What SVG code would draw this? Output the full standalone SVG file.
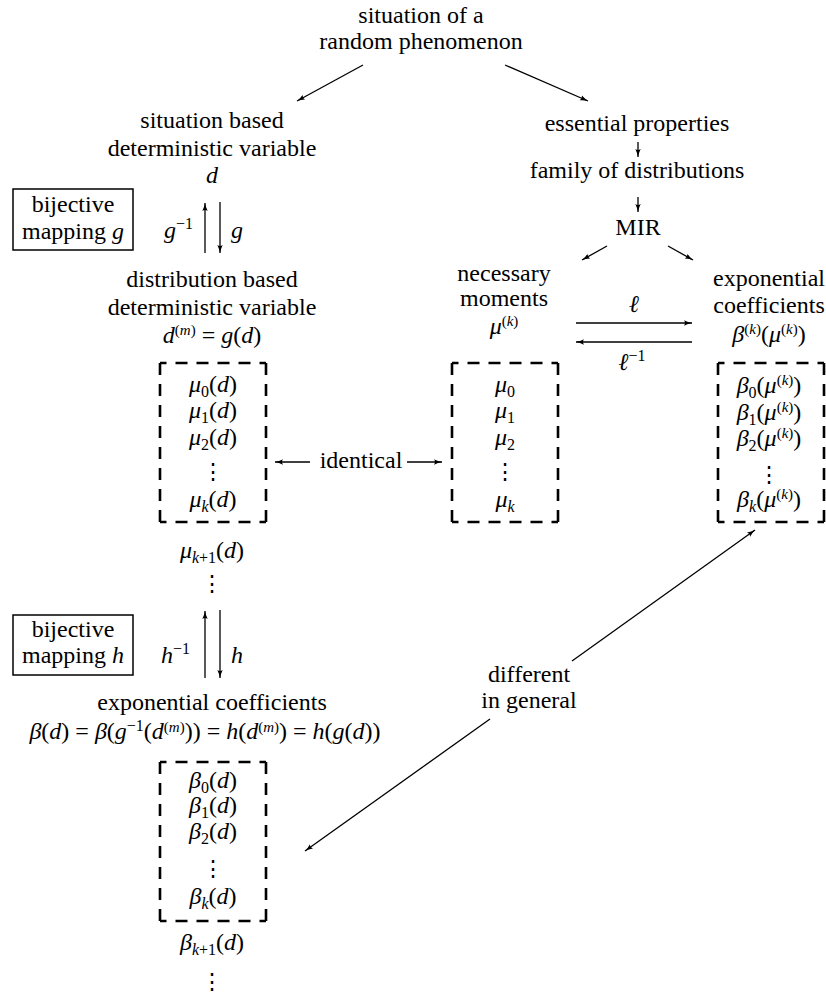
<svg xmlns="http://www.w3.org/2000/svg" width="826" height="994" viewBox="0 0 826 994" font-family="'Liberation Serif', 'Times New Roman', 'DejaVu Serif', serif">
<style>
text { font-family: "Liberation Serif", "Times New Roman", "DejaVu Serif", serif; font-size: 24px; fill: #000; text-anchor: middle; }
.i { font-style: italic; }
.s { font-size: 16px; }
.p { font-size: 15px; }
.st { text-anchor: start; }
.en { text-anchor: end; }
.dots { font-family: "DejaVu Serif", serif; font-size: 22px; }
.c line { stroke: #000; stroke-width: 1.3; marker-end: url(#ah); }
.box { fill: none; stroke: #000; stroke-width: 1.5; }
.dh { stroke: #000; stroke-width: 2.6; stroke-dasharray: 12 9; stroke-dashoffset: 5.5; fill: none; }
.dv { stroke: #000; stroke-width: 2.6; stroke-dasharray: 12 9; fill: none; }
</style>
<defs>
<marker id="ah" viewBox="0 0 8 6" refX="8" refY="3" markerWidth="8" markerHeight="6" markerUnits="userSpaceOnUse" orient="auto">
<path d="M0,0.3 Q4,2.3 8,3 Q4,3.7 0,5.7 Q2,3 0,0.3 z" fill="#000"/>
</marker>
<g id="dbox">
<line class="dh" x1="0" y1="0" x2="106" y2="0"/>
<line class="dh" x1="0" y1="159" x2="106" y2="159"/>
<line class="dv" x1="0" y1="0" x2="0" y2="159"/>
<line class="dv" x1="106" y1="0" x2="106" y2="159"/>
</g>
</defs>

<g id="situation">
<text x="421" y="23">situation of a</text>
<text x="421" y="49">random phenomenon</text>
</g>

<g id="situation-variable">
<text x="212" y="128">situation based</text>
<text x="212" y="156">deterministic variable</text>
<text x="212" y="183" class="i">d</text>
</g>

<g id="bijective-g">
<rect class="box" x="13" y="189" width="120" height="61"/>
<text x="73" y="212">bijective</text>
<text x="73" y="239">mapping <tspan class="i">g</tspan></text>
</g>

<g id="g-labels">
<text x="193" y="238" class="en"><tspan class="i">g</tspan><tspan class="s" dy="-9">−1</tspan></text>
<text x="231" y="238" class="st i">g</text>
</g>

<g id="distribution-variable">
<text x="212" y="287">distribution based</text>
<text x="212" y="315">deterministic variable</text>
<text x="212" y="343"><tspan class="i">d</tspan><tspan class="p" dy="-8">(</tspan><tspan class="p i">m</tspan><tspan class="p">)</tspan><tspan dy="8"> = </tspan><tspan class="i">g</tspan>(<tspan class="i">d</tspan>)</text>
</g>

<g id="moments-d">
<use href="#dbox" x="160" y="363"/>
<text x="213" y="392"><tspan class="i">μ</tspan><tspan class="s" dy="5">0</tspan><tspan dy="-5">(</tspan><tspan class="i">d</tspan>)</text>
<text x="213" y="418"><tspan class="i">μ</tspan><tspan class="s" dy="5">1</tspan><tspan dy="-5">(</tspan><tspan class="i">d</tspan>)</text>
<text x="213" y="445"><tspan class="i">μ</tspan><tspan class="s" dy="5">2</tspan><tspan dy="-5">(</tspan><tspan class="i">d</tspan>)</text>
<text x="213" y="479" class="dots">⋮</text>
<text x="213" y="507"><tspan class="i">μ</tspan><tspan class="s i" dy="5">k</tspan><tspan dy="-5">(</tspan><tspan class="i">d</tspan>)</text>
</g>

<g id="moments-d-more">
<text x="212" y="558"><tspan class="i">μ</tspan><tspan class="s" dy="5"><tspan class="i">k</tspan>+1</tspan><tspan dy="-5">(</tspan><tspan class="i">d</tspan>)</text>
<text x="212" y="591" class="dots">⋮</text>
</g>

<g id="identical">
<text x="361" y="468">identical</text>
</g>

<g id="essential">
<text x="637" y="131">essential properties</text>
</g>
<g id="family">
<text x="637" y="178">family of distributions</text>
</g>
<g id="mir">
<text x="638" y="235">MIR</text>
</g>

<g id="necessary-moments">
<text x="504" y="281">necessary</text>
<text x="504" y="306">moments</text>
<text x="504" y="334"><tspan class="i">μ</tspan><tspan class="p" dy="-8">(</tspan><tspan class="p i">k</tspan><tspan class="p">)</tspan></text>
</g>

<g id="exp-coeff-right">
<text x="769" y="286">exponential</text>
<text x="769" y="313">coefficients</text>
<text x="769" y="342"><tspan class="i">β</tspan><tspan class="p" dy="-8">(</tspan><tspan class="p i">k</tspan><tspan class="p">)</tspan><tspan dy="8">(</tspan><tspan class="i">μ</tspan><tspan class="p" dy="-8">(</tspan><tspan class="p i">k</tspan><tspan class="p">)</tspan><tspan dy="8">)</tspan></text>
</g>

<g id="l-labels">
<text x="634" y="312" class="i">ℓ</text>
<text x="632" y="370"><tspan class="i">ℓ</tspan><tspan class="s" dy="-9">−1</tspan></text>
</g>

<g id="moments">
<use href="#dbox" x="452" y="363"/>
<text x="505" y="392"><tspan class="i">μ</tspan><tspan class="s" dy="5">0</tspan></text>
<text x="505" y="418"><tspan class="i">μ</tspan><tspan class="s" dy="5">1</tspan></text>
<text x="505" y="445"><tspan class="i">μ</tspan><tspan class="s" dy="5">2</tspan></text>
<text x="505" y="479" class="dots">⋮</text>
<text x="505" y="507"><tspan class="i">μ</tspan><tspan class="s i" dy="5">k</tspan></text>
</g>

<g id="coefficients-mu">
<use href="#dbox" x="718" y="363"/>
<text x="769" y="393"><tspan class="i">β</tspan><tspan class="s" dy="5">0</tspan><tspan dy="-5">(</tspan><tspan class="i">μ</tspan><tspan class="p" dy="-8">(</tspan><tspan class="p i">k</tspan><tspan class="p">)</tspan><tspan dy="8">)</tspan></text>
<text x="769" y="420"><tspan class="i">β</tspan><tspan class="s" dy="5">1</tspan><tspan dy="-5">(</tspan><tspan class="i">μ</tspan><tspan class="p" dy="-8">(</tspan><tspan class="p i">k</tspan><tspan class="p">)</tspan><tspan dy="8">)</tspan></text>
<text x="769" y="446"><tspan class="i">β</tspan><tspan class="s" dy="5">2</tspan><tspan dy="-5">(</tspan><tspan class="i">μ</tspan><tspan class="p" dy="-8">(</tspan><tspan class="p i">k</tspan><tspan class="p">)</tspan><tspan dy="8">)</tspan></text>
<text x="769" y="482" class="dots">⋮</text>
<text x="769" y="507"><tspan class="i">β</tspan><tspan class="s i" dy="5">k</tspan><tspan dy="-5">(</tspan><tspan class="i">μ</tspan><tspan class="p" dy="-8">(</tspan><tspan class="p i">k</tspan><tspan class="p">)</tspan><tspan dy="8">)</tspan></text>
</g>

<g id="bijective-h">
<rect class="box" x="13" y="615" width="120" height="60"/>
<text x="73" y="637">bijective</text>
<text x="73" y="663">mapping <tspan class="i">h</tspan></text>
</g>

<g id="h-labels">
<text x="190" y="663" class="en"><tspan class="i">h</tspan><tspan class="s" dy="-9">−1</tspan></text>
<text x="231" y="663" class="st i">h</text>
</g>

<g id="different">
<text x="529" y="682">different</text>
<text x="529" y="708">in general</text>
</g>

<g id="exp-coeff-left">
<text x="212" y="710">exponential coefficients</text>
<text x="205" y="739"><tspan class="i">β</tspan>(<tspan class="i">d</tspan>) = <tspan class="i">β</tspan>(<tspan class="i">g</tspan><tspan class="s" dy="-8">−1</tspan><tspan dy="8">(</tspan><tspan class="i">d</tspan><tspan class="p" dy="-7">(</tspan><tspan class="p i">m</tspan><tspan class="p">)</tspan><tspan dy="7">)) = </tspan><tspan class="i">h</tspan>(<tspan class="i">d</tspan><tspan class="p" dy="-7">(</tspan><tspan class="p i">m</tspan><tspan class="p">)</tspan><tspan dy="7">) = </tspan><tspan class="i">h</tspan>(<tspan class="i">g</tspan>(<tspan class="i">d</tspan>))</text>
</g>

<g id="coefficients-d">
<use href="#dbox" x="160" y="762"/>
<text x="213" y="788"><tspan class="i">β</tspan><tspan class="s" dy="5">0</tspan><tspan dy="-5">(</tspan><tspan class="i">d</tspan>)</text>
<text x="213" y="813"><tspan class="i">β</tspan><tspan class="s" dy="5">1</tspan><tspan dy="-5">(</tspan><tspan class="i">d</tspan>)</text>
<text x="213" y="839"><tspan class="i">β</tspan><tspan class="s" dy="5">2</tspan><tspan dy="-5">(</tspan><tspan class="i">d</tspan>)</text>
<text x="213" y="876" class="dots">⋮</text>
<text x="213" y="904"><tspan class="i">β</tspan><tspan class="s i" dy="5">k</tspan><tspan dy="-5">(</tspan><tspan class="i">d</tspan>)</text>
</g>

<g id="coefficients-d-more">
<text x="212" y="950"><tspan class="i">β</tspan><tspan class="s" dy="5"><tspan class="i">k</tspan>+1</tspan><tspan dy="-5">(</tspan><tspan class="i">d</tspan>)</text>
<text x="212" y="989" class="dots">⋮</text>
</g>

<g id="connectors" class="c">
<line x1="363" y1="65" x2="297" y2="101"/>
<line x1="505" y1="65" x2="588" y2="101"/>
<line x1="638" y1="142" x2="638" y2="157"/>
<line x1="638" y1="197" x2="638" y2="212"/>
<line x1="607" y1="246" x2="582" y2="260"/>
<line x1="668" y1="246" x2="693" y2="260"/>
<line x1="576" y1="323" x2="692" y2="323"/>
<line x1="692" y1="342" x2="576" y2="342"/>
<line x1="205" y1="253" x2="205" y2="203"/>
<line x1="220" y1="202" x2="220" y2="253"/>
<line x1="310" y1="462" x2="275" y2="462"/>
<line x1="407" y1="462" x2="442" y2="462"/>
<line x1="205" y1="678" x2="205" y2="611"/>
<line x1="220" y1="610" x2="220" y2="678"/>
<line x1="572" y1="661" x2="755" y2="530"/>
<line x1="490" y1="719" x2="305" y2="851"/>
</g>
</svg>
